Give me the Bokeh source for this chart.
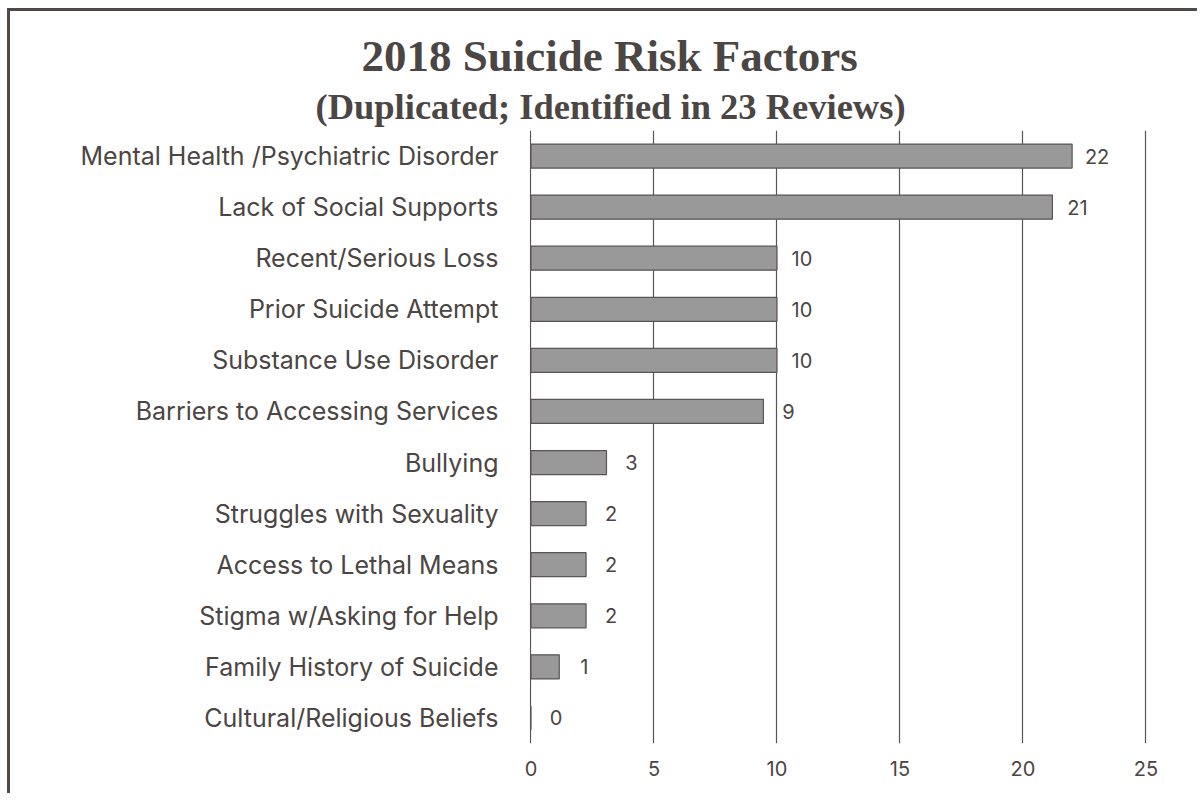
from bokeh.plotting import figure
from bokeh.models import ColumnDataSource, FactorRange, Range1d, Title, FixedTicker
from bokeh.core.properties import value
from bokeh.embed import file_html
from bokeh.resources import INLINE

title_text = "2018 Suicide Risk Factors"
subtitle_text = "(Duplicated; Identified in 23 Reviews)"

factors = [
    "Mental Health /Psychiatric Disorder",
    "Lack of Social Supports",
    "Recent/Serious Loss",
    "Prior Suicide Attempt",
    "Substance Use Disorder",
    "Barriers to Accessing Services",
    "Bullying",
    "Struggles with Sexuality",
    "Access to Lethal Means",
    "Stigma w/Asking for Help",
    "Family History of Suicide",
    "Cultural/Religious Beliefs",
]
counts = [22, 21, 10, 10, 10, 9, 3, 2, 2, 2, 1, 0]
bar_lengths = [22.0, 21.2, 10.0, 10.0, 10.0, 9.45, 3.07, 2.24, 2.24, 2.24, 1.15, 0.0]
x_ticks = [0, 5, 10, 15, 20, 25]

TEXT = "#4b4543"
LINE = "#5a5452"
FONT = "Inter"

src = ColumnDataSource(dict(cat=factors, length=bar_lengths, lbl=[str(c) for c in counts]))

p = figure(
    width=1190, height=785,
    y_range=FactorRange(factors=list(reversed(factors))),
    x_range=Range1d(-0.06, 26),
    output_backend="svg", toolbar_location=None,
    min_border_left=519, min_border_right=30,
    min_border_top=119, min_border_bottom=53,
    styles={"border-top": "3px solid #4f4947", "border-left": "3px solid #4f4947",
            "margin-top": "8px", "margin-left": "7px"},
)

p.hbar(y="cat", left=0, right="length", height=0.47, source=src,
       fill_color="#999999", line_color=LINE, line_width=1.2)

p.text(x="length", y="cat", text="lbl", source=src, x_offset=25,
       text_align="center", text_baseline="middle",
       text_font=value(FONT), text_font_size="20px", text_color=TEXT)

ticker = FixedTicker(ticks=x_ticks)
p.xaxis.ticker = ticker
p.xgrid.ticker = ticker
p.xgrid.grid_line_color = LINE
p.xgrid.grid_line_width = 1.2
p.ygrid.visible = False
p.outline_line_color = None

for ax in (p.xaxis[0], p.yaxis[0]):
    ax.axis_line_color = None
    ax.major_tick_line_color = None
    ax.minor_tick_line_color = None
    ax.major_tick_out = 0
    ax.major_tick_in = 0
    ax.major_label_text_color = TEXT
    ax.major_label_text_font = FONT

p.xaxis.major_label_text_font_size = "20px"
p.xaxis.major_label_standoff = 17
p.yaxis.major_label_text_font_size = "25px"
p.yaxis.major_label_standoff = 31

# the titles are centred on the whole chart, so shift them left of the frame
p.add_layout(Title(text=subtitle_text, align="left", offset=-214, standoff=7,
                   text_font="Liberation Serif", text_font_style="bold",
                   text_font_size="36.5px", text_color=TEXT), "above")
p.add_layout(Title(text=title_text, align="left", offset=-168, standoff=0,
                   text_font="Liberation Serif", text_font_style="bold",
                   text_font_size="45px", text_color=TEXT), "above")

open("out.html", "w").write(file_html(p, INLINE))
